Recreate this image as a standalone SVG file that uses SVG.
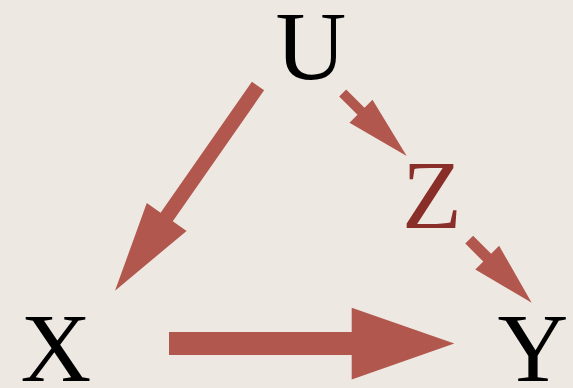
<svg xmlns="http://www.w3.org/2000/svg" width="573" height="388" viewBox="0 0 573 388">
<style>
.bg{fill:#ede8e2}
.lbl{font-family:"Liberation Serif","DejaVu Serif",serif;font-size:98px;text-anchor:middle;fill:#000}
.z{fill:#8a2e29}
.arr{fill:#b1574e}
</style>
<rect class="bg" x="0" y="0" width="573" height="388"/>
<g id="connectors">
<polygon id="U-X" class="arr" points="251.9,81.7 264.1,90.3 172.8,221.3 186.6,230.9 115,290.7 146.8,203.1 160.6,212.7"/>
<polygon id="U-Z" class="arr" points="339.2,96.5 346.2,89.5 364.5,107.8 372.5,99.8 406.7,156 349.5,122.8 357.5,114.8"/>
<polygon id="Z-Y" class="arr" points="465.3,243.6 473.1,235.8 491.1,253.8 499.1,245.8 531.7,302.7 475.3,269.6 483.3,261.6"/>
<polygon id="X-Y" class="arr" points="169,332.1 351.7,332.1 351.7,307.8 454.3,343.6 351.7,379.4 351.7,355.1 169,355.1"/>
</g>
<g id="node-U"><text class="lbl" x="311" y="79">U</text></g>
<g id="node-Z"><text class="lbl z" x="432" y="228">Z</text></g>
<g id="node-X"><text class="lbl" x="56" y="381">X</text></g>
<g id="node-Y"><text class="lbl" x="533" y="381">Y</text></g>
</svg>
